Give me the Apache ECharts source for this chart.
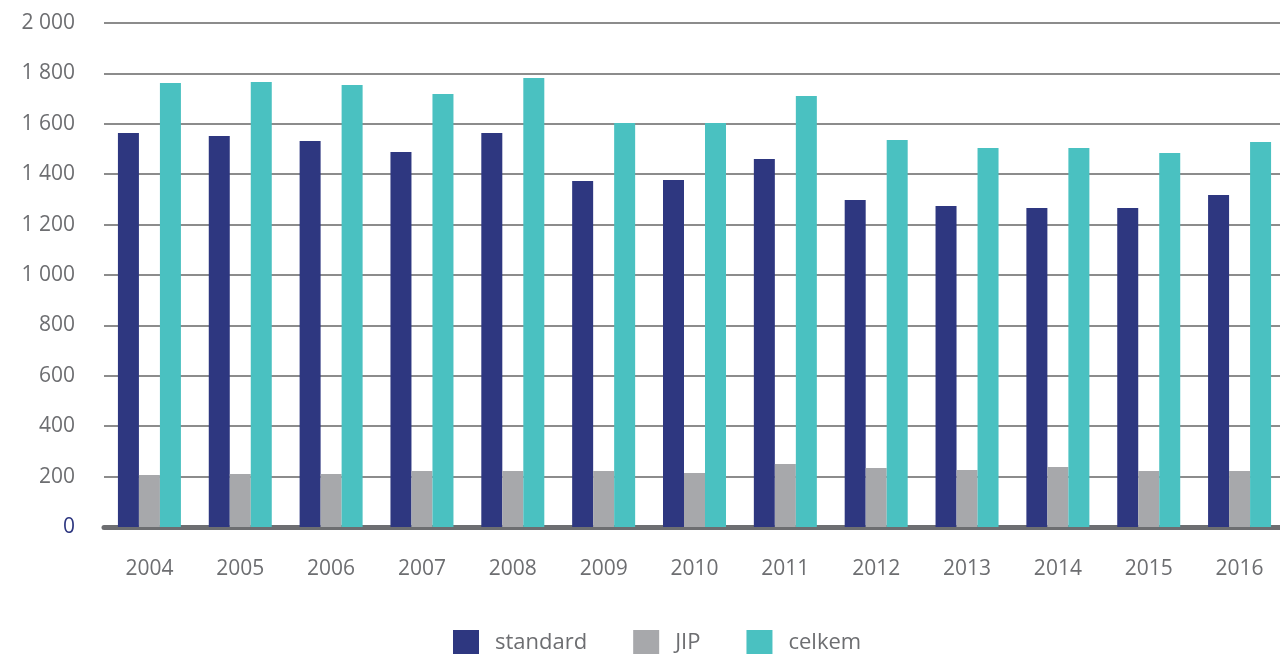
<!DOCTYPE html>
<html><head><meta charset="utf-8">
<script src="https://cdn.jsdelivr.net/npm/echarts@6/dist/echarts.min.js"></script>
<style>html,body{margin:0;padding:0;background:#fff;overflow:hidden}#c{width:1290px;height:654px}</style>
</head><body><div id="c"></div>
<script>
const categories = ['2004','2005','2006','2007','2008','2009','2010','2011','2012','2013','2014','2015','2016'];
const standard = [1563,1552,1532,1488,1563,1373,1377,1460,1298,1274,1266,1266,1317];
const jip = [206,210,210,222,222,222,214,250,234,226,238,222,222];
const celkem = [1762,1766,1754,1718,1782,1603,1603,1710,1536,1504,1504,1484,1528];
const seriesNames = ['standard','JIP','celkem'];
const colors = ['#2e3780','#a7a8ab','#4ac1c1'];

const chart = echarts.init(document.getElementById('c'));
const font = 'Open Sans';
chart.setOption({
  animation:false,
  color: colors,
  grid:{left:104,width:1181,top:23,height:504,containLabel:false},
  legend:{
    top:625, left:448, itemWidth:26, itemHeight:26, itemGap:46,
    icon:'rect',
    textStyle:{fontFamily:font,fontSize:22,color:'#6d6e71',padding:[0,0,0,11]},
    data:seriesNames
  },
  xAxis:{
    type:'category', data:categories,
    axisLine:{show:true,lineStyle:{color:'#6d6e71',width:5}},
    axisTick:{show:false},
    axisLabel:{fontFamily:font,fontSize:21,color:'#6d6e71',margin:32}
  },
  yAxis:{
    type:'value', min:0, max:2000, interval:200,
    axisLine:{show:false}, axisTick:{show:false},
    splitLine:{lineStyle:{color:'#8c8c8c',width:2}},
    axisLabel:{fontFamily:font,fontSize:21,margin:29,
      color:function(v){return v==0?'#2e3780':'#6d6e71';},
      formatter:function(v){return String(v).replace(/\B(?=(\d{3})+(?!\d))/g,' ');}}
  },
  series:[
    {name:seriesNames[0],type:'bar',data:standard,barWidth:21,barGap:'0%'},
    {name:seriesNames[1],type:'bar',data:jip,barWidth:21,barGap:'0%'},
    {name:seriesNames[2],type:'bar',data:celkem,barWidth:21,barGap:'0%'}
  ]
});
</script></body></html>
